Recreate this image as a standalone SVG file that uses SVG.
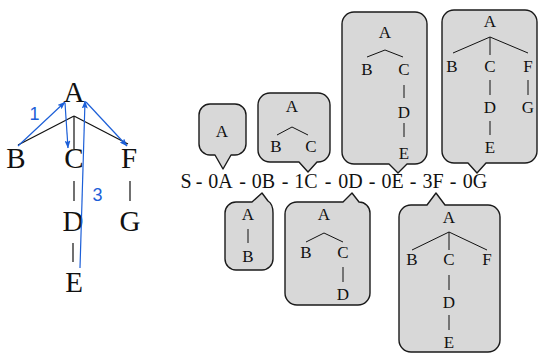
<svg xmlns="http://www.w3.org/2000/svg" width="539" height="354" viewBox="0 0 539 354">
  <style>
    .big { font-family: "Liberation Serif", "Times New Roman", serif; font-size: 29px; fill: #111; text-anchor: middle; }
    .seq { font-family: "Liberation Serif", "Times New Roman", serif; font-size: 20px; fill: #111; text-anchor: middle; }
    .sm { font-family: "Liberation Serif", "Times New Roman", serif; font-size: 17px; fill: #111; text-anchor: middle; }
    .lbl { font-family: "Liberation Sans", Arial, sans-serif; font-size: 18px; fill: #1c5fd8; text-anchor: middle; }
    .edge { stroke: #111; stroke-width: 1.2; fill: none; }
    .tedge { stroke: #111; stroke-width: 1; fill: none; }
    .walk { stroke: #1c5fd8; stroke-width: 1.2; fill: none; marker-end: url(#arr); }
    .bubble { fill: #d8d8d8; stroke: #1a1a1a; stroke-width: 1.4; stroke-linejoin: round; }
  </style>
  <defs>
    <marker id="arr" viewBox="0 0 8 6" refX="7.5" refY="3" markerWidth="8" markerHeight="6" markerUnits="userSpaceOnUse" orient="auto">
      <path d="M0,0 L8,3 L0,6 L1.5,3 Z" fill="#1c5fd8"/>
    </marker>
  </defs>

  <!-- tree on the left -->
  <g id="tree-edges">
    <line class="edge" x1="74" y1="116" x2="18" y2="145"/>
    <line class="edge" x1="74" y1="116" x2="74" y2="149"/>
    <line class="edge" x1="74" y1="116" x2="128" y2="144"/>
    <line class="edge" x1="74" y1="181" x2="74" y2="201"/>
    <line class="edge" x1="130" y1="181" x2="130" y2="201"/>
    <line class="edge" x1="73" y1="243" x2="73" y2="262"/>
  </g>
  <g id="tA"><text class="big" x="74" y="102">A</text></g>
  <g id="tB"><text class="big" x="16" y="168">B</text></g>
  <g id="tC"><text class="big" x="74" y="168">C</text></g>
  <g id="tF"><text class="big" x="129" y="168">F</text></g>
  <g id="tD"><text class="big" x="73" y="231">D</text></g>
  <g id="tG"><text class="big" x="130" y="231">G</text></g>
  <g id="tE"><text class="big" x="74" y="292">E</text></g>

  <!-- traversal arrows -->
  <g id="walk">
    <line class="walk" x1="18" y1="146" x2="65" y2="102"/>
    <line class="walk" x1="65" y1="103" x2="68" y2="148"/>
    <line class="walk" x1="80" y1="268" x2="85" y2="101"/>
    <line class="walk" x1="86" y1="102" x2="127" y2="146"/>
    <text class="lbl" x="34.5" y="120">1</text>
    <text class="lbl" x="97.5" y="201">3</text>
  </g>

  <!-- sequence -->
  <g id="sequence">
    <text class="seq" y="188"><tspan x="186">S</tspan><tspan x="199">-</tspan><tspan x="220.5">0A</tspan><tspan x="242.5">-</tspan><tspan x="263.5">0B</tspan><tspan x="285">-</tspan><tspan x="306">1C</tspan><tspan x="328">-</tspan><tspan x="350.5">0D</tspan><tspan x="372">-</tspan><tspan x="392.5">0E</tspan><tspan x="413">-</tspan><tspan x="433">3F</tspan><tspan x="453">-</tspan><tspan x="475">0G</tspan></text>
  </g>

  <!-- callout above 0A -->
  <g id="c0A">
    <path class="bubble" d="M210,104 H235 A11,11 0 0 1 246,115 V144 A11,11 0 0 1 235,155 H231 L223,169 L215,155 H210 A11,11 0 0 1 199,144 V115 A11,11 0 0 1 210,104 Z"/>
    <text class="sm" x="222" y="137">A</text>
  </g>

  <!-- callout above 1C -->
  <g id="c1C">
    <path class="bubble" d="M270,93 H318 A12,12 0 0 1 330,105 V150 A12,12 0 0 1 318,162 H317 L308,172 L299,162 H270 A12,12 0 0 1 258,150 V105 A12,12 0 0 1 270,93 Z"/>
    <polyline class="tedge" points="277,135 292,127 308,135"/>
    <text class="sm" x="292" y="112">A</text>
    <text class="sm" x="276" y="152">B</text>
    <text class="sm" x="311" y="152">C</text>
  </g>

  <!-- callout above 0E -->
  <g id="c0E">
    <path class="bubble" d="M354,12 H415 A12,12 0 0 1 427,24 V152 A12,12 0 0 1 415,164 H407 L398,173 L389,164 H354 A12,12 0 0 1 342,152 V24 A12,12 0 0 1 354,12 Z"/>
    <polyline class="tedge" points="367,57 385,50 403,57"/>
    <line class="tedge" x1="404" y1="85" x2="404" y2="98"/>
    <line class="tedge" x1="404" y1="123" x2="404" y2="137"/>
    <text class="sm" x="385" y="38">A</text>
    <text class="sm" x="367" y="75">B</text>
    <text class="sm" x="404" y="75">C</text>
    <text class="sm" x="404" y="118">D</text>
    <text class="sm" x="404" y="159">E</text>
  </g>

  <!-- callout above 0G -->
  <g id="c0G">
    <path class="bubble" d="M454,10 H525 A12,12 0 0 1 537,22 V151 A12,12 0 0 1 525,163 H486 L477,173 L468,163 H454 A12,12 0 0 1 442,151 V22 A12,12 0 0 1 454,10 Z"/>
    <polyline class="tedge" points="453,53 490,37 528,53"/>
    <line class="tedge" x1="490" y1="37" x2="490" y2="55"/>
    <line class="tedge" x1="490" y1="80" x2="490" y2="95"/>
    <line class="tedge" x1="528" y1="80" x2="528" y2="95"/>
    <line class="tedge" x1="490" y1="121" x2="490" y2="135"/>
    <text class="sm" x="490" y="27">A</text>
    <text class="sm" x="452" y="72">B</text>
    <text class="sm" x="490" y="72">C</text>
    <text class="sm" x="528" y="72">F</text>
    <text class="sm" x="490" y="113">D</text>
    <text class="sm" x="528" y="113">G</text>
    <text class="sm" x="490" y="153">E</text>
  </g>

  <!-- callout below 0B -->
  <g id="c0B">
    <path class="bubble" d="M236,202 H252 L262,193 L268,201 Q273,204 273,213 V259 A11,11 0 0 1 262,270 H236 A11,11 0 0 1 225,259 V213 A11,11 0 0 1 236,202 Z"/>
    <line class="tedge" x1="248" y1="229" x2="248" y2="243"/>
    <text class="sm" x="248" y="220">A</text>
    <text class="sm" x="248" y="262">B</text>
  </g>

  <!-- callout below 0D -->
  <g id="c0D">
    <path class="bubble" d="M297,202 H343 L352,193 L359,202 A11,11 0 0 1 370,213 V293 A12,12 0 0 1 358,305 H297 A12,12 0 0 1 285,293 V214 A12,12 0 0 1 297,202 Z"/>
    <polyline class="tedge" points="306,242 324,233 343,242"/>
    <line class="tedge" x1="343" y1="267" x2="343" y2="282"/>
    <text class="sm" x="324" y="220">A</text>
    <text class="sm" x="306" y="258">B</text>
    <text class="sm" x="343" y="258">C</text>
    <text class="sm" x="343" y="300">D</text>
  </g>

  <!-- callout below 3F -->
  <g id="c3F">
    <path class="bubble" d="M411,205 H427 L436,193 L445,205 H488 A12,12 0 0 1 500,217 V340 A12,12 0 0 1 488,352 H411 A12,12 0 0 1 399,340 V217 A12,12 0 0 1 411,205 Z"/>
    <polyline class="tedge" points="412,250 449,232 487,250"/>
    <line class="tedge" x1="449" y1="232" x2="449" y2="250"/>
    <line class="tedge" x1="449" y1="275" x2="449" y2="290"/>
    <line class="tedge" x1="449" y1="315" x2="449" y2="330"/>
    <text class="sm" x="449" y="223">A</text>
    <text class="sm" x="412" y="265">B</text>
    <text class="sm" x="449" y="265">C</text>
    <text class="sm" x="487" y="265">F</text>
    <text class="sm" x="449" y="308">D</text>
    <text class="sm" x="449" y="348">E</text>
  </g>
</svg>
